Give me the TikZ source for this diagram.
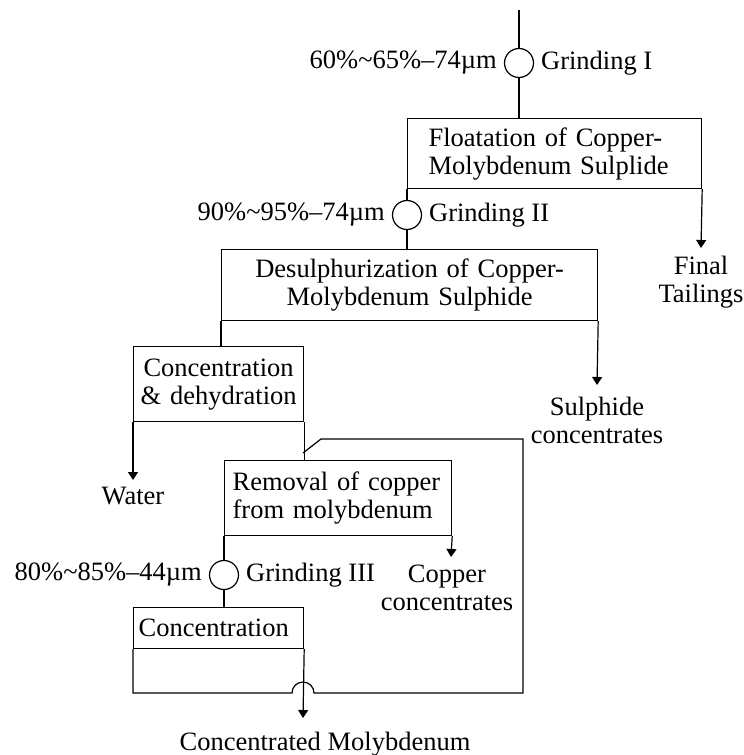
\documentclass[tikz,border=0pt]{standalone}
\usepackage{fontspec}
\setmainfont{Liberation Serif}
\usetikzlibrary{arrows.meta, positioning, calc}

\begin{document}
\begin{tikzpicture}[
    x=0.5pt, y=-0.5pt,
    font=\fontsize{13.25}{14}\selectfont,
    stage/.style={rectangle, draw, line width=0.6pt, inner ysep=0pt, anchor=north west},
    mill/.style={circle, draw, line width=0.6pt, minimum size=14.5pt, inner sep=0pt},
    flow/.style={-{Triangle[length=4pt, width=5pt]}, line width=0.6pt},
    pipe/.style={line width=0.6pt},
    note/.style={align=center, inner sep=0pt}
]
    \useasboundingbox (0,0) rectangle (744,755);

    % process stages
    \node[stage, minimum width=147pt, minimum height=35pt, text width=126pt, inner xsep=10.5pt, align=left] (flot) at (407,118) {Floatation of Copper-\\Molybdenum Sulplide};
    \node[stage, minimum width=188pt, minimum height=35.5pt, text width=180pt, inner xsep=4pt, align=center] (desul) at (221,249) {Desulphurization of Copper-\\Molybdenum Sulphide};
    \node[stage, minimum width=85pt, minimum height=37.5pt, text width=81pt, inner xsep=2pt, align=center] (dehyd) at (133,346) {Concentration\\\& dehydration};
    \node[stage, minimum width=113.5pt, minimum height=37.5pt, text width=105.5pt, inner xsep=4pt, align=left] (remov) at (224,460) {Removal of copper\\from molybdenum};
    \node[stage, minimum width=85pt, minimum height=20.5pt, text width=80pt, inner xsep=2.5pt, align=left] (conc) at (133,607) {Concentration};

    % grinding
    \node[mill] (grind1) at (519,63) {};
    \node[mill] (grind2) at (407,215) {};
    \node[mill] (grind3) at (224,575) {};
    \node[left=0pt of grind1] {60\%\textasciitilde65\%–74µm};
    \node[right=0pt of grind1] {Grinding I};
    \node[left=0pt of grind2] {90\%\textasciitilde95\%–74µm};
    \node[right=0pt of grind2] {Grinding II};
    \node[left=0pt of grind3] {80\%\textasciitilde85\%–44µm};
    \node[right=0pt of grind3] {Grinding III};

    % products
    \coordinate (feed) at (519,10);
    \coordinate (tail) at (701,248);
    \coordinate (sulph) at (597,385);
    \coordinate (water) at (133,480);
    \coordinate (cuout) at (451,557);
    \coordinate (moout) at (303,718);
    \node[note, below=4pt of tail] (tailtxt) {Final\\Tailings};
    \node[note, below=6pt of sulph] (sulphtxt) {Sulphide\\concentrates};
    \node[note, below=3.5pt of water] (watertxt) {Water};
    \node[note, below=4pt of cuout, xshift=-2pt] (cutxt) {Copper\\concentrates};
    \node[note, below=7pt of moout, xshift=11pt] (motxt) {Concentrated Molybdenum};

    \draw[pipe] (feed) -- (grind1);
    \draw[pipe] (grind1) -- (grind1 |- flot.north);
    \draw[flow] (flot.south east) -- (tail);
    \draw[pipe] (flot.south west) -- (grind2);
    \draw[pipe] (grind2) -- (grind2 |- desul.north);
    \draw[flow] (desul.south east) -- (sulph);
    \draw[pipe] (desul.south west) -- (desul.south west |- dehyd.north);
    \draw[flow] (dehyd.south west) -- (water);
    \draw[pipe] (dehyd.south east) -- (dehyd.south east |- remov.north);
    \draw[flow] (remov.south east) -- (cuout);
    \draw[pipe] (remov.south west) -- (grind3);
    \draw[pipe] (grind3) -- (grind3 |- conc.north);
    \draw[flow] (conc.south east) -- (moout);

    % recycle of concentration tailings
    \draw[pipe] (conc.south west) -- (133,693) -- (292,693) arc[start angle=180, end angle=0, radius=5.5pt]
        -- (523,693) -- (523,439) -- (321,439) -- (303,453);
\end{tikzpicture}
\end{document}
